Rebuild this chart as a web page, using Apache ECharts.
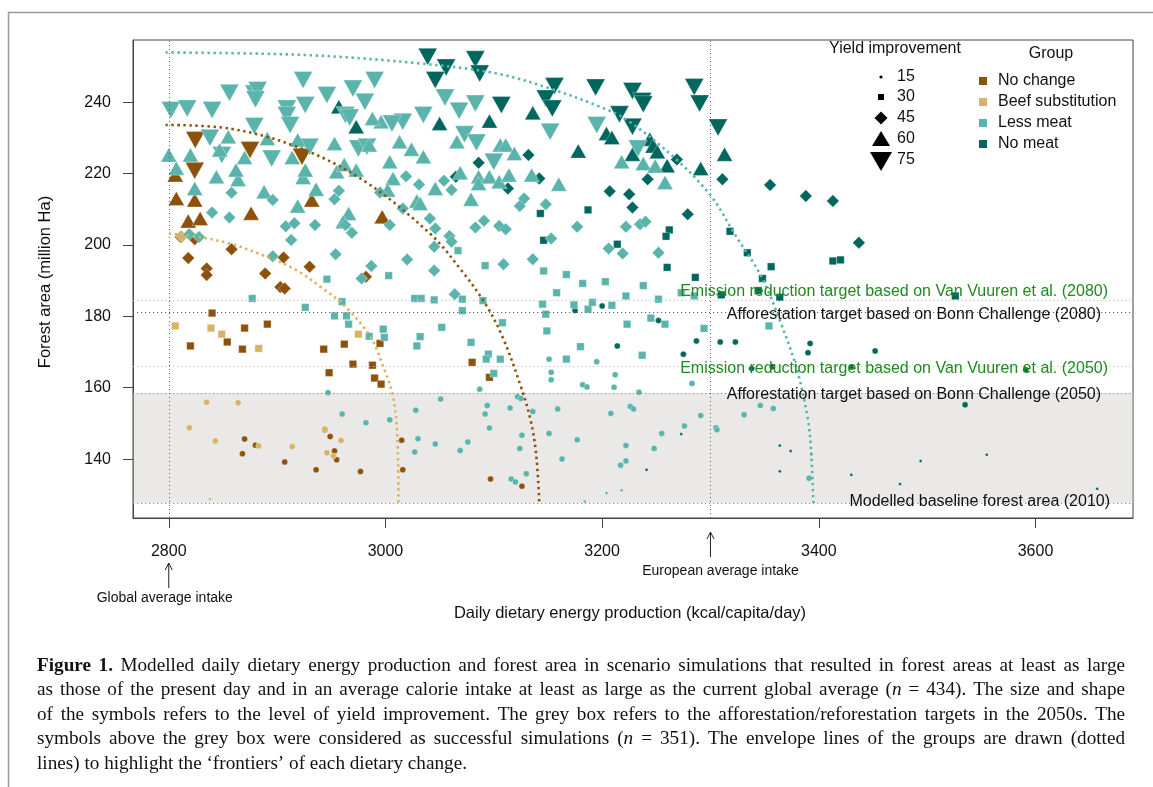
<!DOCTYPE html>
<html><head><meta charset="utf-8">
<script src="https://cdn.jsdelivr.net/npm/echarts@6/dist/echarts.min.js"></script>
<style>html,body{margin:0;padding:0;background:#fff;}#c{width:1153px;height:787px;}</style>
</head><body><div id="c"></div>
<script>
// ---------------- data ----------------
const xTicks = [2800, 3000, 3200, 3400, 3600];
const yTicks = [140, 160, 180, 200, 220, 240];
const yieldLevels = [15, 30, 45, 60, 75];
const groupNames = ['No change', 'Beef substitution', 'Less meat', 'No meat'];

// No change
const noChange75 = [[2824.5,229.4],[2824,220.8],[2875,226.6],[2923,224.7]];
const noChange60 = [[2807,213.0],[2824,212.6],[2818,206.7],[2829,207.4],[2876,208.9],[2932,212.6],[2997,207.9],[2806,219.6]];
const noChange45 = [[2818,196.3],[2835,193.4],[2835,191.6],[2858,198.8],[2889,192.0],[2906,196.5],[2903,188.2],[2907,187.8],[2930,193.9],[2982,191.1],[2811,202.2],[2824,201.6]];
const noChange30 = [[2840,180.9],[2820,171.7],[2854,172.8],[2870,176.7],[2868,170.8],[2891,177.8],[2943,170.8],[2948,164.2],[2962,172.2],[2970,166.6],[2988,166.3],[2990,162.7],[2996,161.0],[2995,172.4],[3080,167.1],[3096,162.9]];
const noChange15 = [[2870,145.6],[2868,141.5],[2880,143.9],[2907,139.2],[2936,137.0],[2944,148.2],[2949,146.3],[2953,142.3],[2955,139.8],[2977,136.5],[3015,145.3],[3016,137.0],[3097,134.4],[3126,132.4]];
const noChange0 = [];

// Beef substitution
const beef75 = [];
const beef60 = [];
const beef45 = [[2812,202.3]];
const beef30 = [[2806,177.3],[2839,176.7],[2849,175.0],[2883,171.0],[2975,175.0]];
const beef15 = [[2835,155.9],[2864,155.8],[2819,148.8],[2843,145.1],[2883,143.7],[2914,143.5],[2944,148.4],[2959,145.2],[2946,141.8],[2952,140.9]];
const beef0 = [[2838,128.8]];

// Less meat
const lessMeat75 = [[2802,237.8],[2817,238.2],[2840,237.8],[2856,242.6],[2879,242.4],[2882,243.4],[2880,240.8],[2909,238.2],[2924,246.2],[2926,239.2],[2946,242.0],[2970,243.8],[2990,246.2],[2981,240.1],[2963,236.4],[2967,235.7],[2909,236.4],[2912,233.6],[2879,233.3],[2838,230.0],[2895,224.2],[2930,227.5],[2975,227.0],[2983,227.5],[2849,225.2],[3035,236.4],[3016,234.5],[3006,234.0],[3055,241.3],[3068,237.6],[3083,239.6],[3073,231.0],[3084,228.7],[3100,223.3],[3152,231.7],[3195,233.6],[3233,227.0]];
const lessMeat60 = [[2800,225.2],[2820,225.2],[2807,221.5],[2824,215.8],[2844,219.1],[2864,218.3],[2862,221.0],[2870,224.5],[2855,230.3],[2847,226.6],[2888,214.9],[2919,210.9],[2936,215.6],[2924,218.9],[2926,221.0],[2914,224.5],[2919,229.4],[2953,228.4],[2955,220.5],[2962,222.5],[2973,221.0],[2966,208.8],[2961,206.5],[2996,234.5],[3004,223.3],[3007,218.6],[3013,228.9],[3024,226.8],[3035,224.7],[3029,212.3],[3002,215.4],[2891,229.8],[2988,235.4],[2985,228.0],[3046,215.8],[3069,220.2],[3066,228.9],[3079,212.8],[3086,219.1],[3086,217.2],[3096,219.1],[3105,217.7],[3106,228.0],[3111,228.0],[3119,225.6],[3114,219.6],[3135,219.6],[3160,217.0],[3218,223.3],[3238,222.8],[3249,222.1],[3258,217.5],[3032,211.6]];
const lessMeat45 = [[2858,214.6],[2896,212.6],[2840,209.1],[2856,207.7],[2908,205.2],[2916,206.1],[2935,205.6],[2913,201.4],[2957,215.2],[2953,212.8],[2963,205.6],[2969,203.4],[2954,197.4],[2987,194.1],[3020,195.9],[3019,219.2],[3031,216.9],[2995,214.7],[3016,210.2],[2896,196.8],[2819,203.0],[2828,202.2],[2978,190.6],[3004,205.6],[3045,199.5],[3054,218.0],[3061,215.4],[3041,207.4],[3046,204.6],[3045,192.8],[3059,202.5],[3061,200.9],[3083,204.9],[3091,206.8],[3105,205.3],[3111,204.4],[3109,194.6],[3124,210.9],[3128,213.0],[3136,196.0],[3148,211.4],[3153,201.8],[3177,205.1],[3206,199.0],[3219,197.6],[3222,205.1],[3235,205.8],[3240,206.5],[3252,197.8],[3064,186.2]];
const lessMeat30 = [[2877,185.0],[2926,182.5],[2946,190.4],[2953,180.1],[2960,184.1],[2964,180.1],[2966,177.8],[2985,174.4],[2998,176.4],[2999,174.1],[3003,191.4],[3027,185.0],[3033,185.0],[3045,184.6],[3029,171.7],[3032,174.3],[3052,176.9],[3067,198.4],[3092,194.2],[3071,184.8],[3090,184.4],[3071,181.6],[3079,172.7],[3108,178.2],[3095,169.4],[3093,168.0],[3106,168.0],[3100,164.0],[3146,192.7],[3167,191.7],[3182,189.2],[3203,189.7],[3238,188.6],[3158,186.6],[3145,183.4],[3148,180.6],[3174,183.2],[3187,182.0],[3191,183.9],[3209,183.1],[3222,185.7],[3252,184.8],[3245,179.5],[3258,177.8],[3223,177.8],[3149,175.9],[3180,171.5],[3167,168.0],[3237,169.1],[3294,176.6],[3273,186.6],[3285,185.7],[3354,177.3]];
const lessMeat15 = [[3087,159.6],[3151,168.0],[3153,164.3],[3153,162.2],[3182,160.8],[3186,160.2],[3195,167.3],[3212,163.6],[3211,160.1],[3283,161.2],[3234,158.7],[2947,158.6],[2960,152.6],[2982,150.2],[3004,151.0],[3028,153.7],[3030,145.7],[3027,142.0],[3046,144.2],[3051,156.8],[3069,142.4],[3076,144.8],[3092,152.6],[3094,155.0],[3096,148.7],[3115,154.3],[3122,157.5],[3125,157.0],[3126,146.7],[3124,143.0],[3130,135.9],[3116,134.4],[3120,133.6],[3136,153.3],[3151,147.2],[3159,154.0],[3163,140.0],[3177,145.4],[3208,152.8],[3222,143.8],[3222,139.5],[3217,138.3],[3226,154.7],[3229,154.0],[3248,143.0],[3255,147.2],[3276,149.3],[3291,152.2],[3305,148.8],[3306,148.2],[3331,152.4],[3346,155.0],[3358,154.2],[3391,134.6]];
const lessMeat0 = [[3204,130.5],[3218,131.3],[3184,128.1]];

// No meat
const noMeat75 = [[3039,252.7],[3056,249.7],[3046,246.2],[3083,252.0],[3087,248.0],[3107,239.2],[3156,244.5],[3148,241.0],[3154,238.2],[3194,244.1],[3228,243.1],[3237,240.3],[3238,239.4],[3216,236.6],[3228,233.1],[3285,244.2],[3290,239.6],[3307,232.9]];
const noMeat60 = [[2957,238.7],[2973,233.1],[3050,234.0],[3096,234.7],[3136,237.0],[3178,226.3],[3204,231.2],[3209,230.1],[3228,225.4],[3244,229.6],[3247,227.7],[3251,226.1],[3260,222.2],[3291,221.4],[3313,225.4]];
const noMeat45 = [[3086,223.0],[3065,219.1],[3113,215.8],[3132,225.2],[3142,218.6],[3207,215.0],[3225,214.2],[3228,210.5],[3242,218.4],[3269,223.9],[3279,208.6],[3311,218.4],[3355,216.8],[3388,213.7],[3413,212.3],[3437,200.6]];
const noMeat30 = [[3143,208.8],[3187,209.8],[3146,201.3],[3214,200.2],[3262,204.2],[3259,202.4],[3260,193.7],[3286,190.9],[3318,203.8],[3310,186.0],[3334,197.8],[3356,193.9],[3348,190.6],[3344,187.2],[3364,185.3],[3413,195.5],[3420,195.8],[3526,185.7]];
const noMeat15 = [[3175,181.6],[3200,182.9],[3252,178.8],[3214,171.7],[3275,169.4],[3287,173.1],[3309,172.8],[3323,172.8],[3392,172.4],[3390,169.8],[3452,170.3],[3338,165.4],[3357,165.9],[3430,165.8],[3591,165.0],[3535,155.2]];
const noMeat0 = [[3273,147.0],[3241,137.0],[3364,143.8],[3374,142.3],[3393,141.4],[3364,136.6],[3430,135.6],[3475,133.0],[3494,139.5],[3555,141.2],[3657,131.7]];

// envelope ("frontier") lines
const envelopeBeef = [[2800,203.2],[2826,202.3],[2856,200.4],[2887,197.1],[2918,192.9],[2942,187.8],[2963,182.7],[2986,174.3],[2998,165.9],[3007,157.5],[3011,146.2],[3012,127.7]];
const envelopeNoChange = [[2797,233.6],[2856,232.6],[2918,227.5],[2979,218.2],[3041,203.2],[3070,192.9],[3092,183.6],[3108,174.3],[3125,160.3],[3134,150.9],[3139,141.6],[3142,128.0]];
const envelopeMeat = [[2797,253.9],[2926,253.2],[3033,250.8],[3103,248.0],[3152,243.8],[3198,238.7],[3223,235.0],[3269,223.8],[3301,213.5],[3322,203.2],[3347,191.1],[3364,178.9],[3380,164.9],[3390,150.9],[3393,141.6],[3395,127.7]];

// reference levels (million Ha) and intake markers (kcal)
const baseline2010 = 127.7;
const bonn2050 = 158.5;
const vuuren2050 = 166.1;
const bonn2080 = 181.2;
const vuuren2080 = 184.6;
const globalIntake = 2800;
const europeanIntake = 3300;

const refLabels = [
  {text:'Emission reduction target based on Van Vuuren et al. (2080)', y:vuuren2080, color:'#1f8a1f', dy:-8, right:1108},
  {text:'Afforestation target based on Bonn Challenge (2080)', y:bonn2080, color:'#111', dy:3, right:1101},
  {text:'Emission reduction target based on Van Vuuren et al. (2050)', y:vuuren2050, color:'#1f8a1f', dy:3, right:1108},
  {text:'Afforestation target based on Bonn Challenge (2050)', y:bonn2050, color:'#111', dy:2, right:1101},
  {text:'Modelled baseline forest area (2010)', y:baseline2010, color:'#111', dy:-1, right:1110}
];

const captionLines = [
  '**Figure** **1.** Modelled daily dietary energy production and forest area in scenario simulations that resulted in forest areas at least as large',
  'as those of the present day and in an average calorie intake at least as large as the current global average (_n_ = 434). The size and shape',
  'of the symbols refers to the level of yield improvement. The grey box refers to the afforestation/reforestation targets in the 2050s. The',
  'symbols above the grey box were considered as successful simulations (_n_ = 351). The envelope lines of the groups are drawn (dotted',
  'lines) to highlight the \u2018frontiers\u2019 of each dietary change.'
];

// ---------------- styling ----------------
const colors = {'No change':'#8C510A','Beef substitution':'#D8B365','Less meat':'#5AB4AC','No meat':'#01665E'};
const symbolStyle = {
  0:{symbol:'circle', size:3, rot:0},
  15:{symbol:'circle', size:6, rot:0},
  30:{symbol:'rect', size:7.5, rot:0},
  45:{symbol:'diamond', size:12.5, rot:0},
  60:{symbol:'triangle', size:[16,14], rot:0},
  75:{symbol:'triangle', size:[19,17], rot:180}
};
const drawOrder = [
  ['No meat', {0:noMeat0,15:noMeat15,30:noMeat30,45:noMeat45,60:noMeat60,75:noMeat75}],
  ['No change', {0:noChange0,15:noChange15,30:noChange30,45:noChange45,60:noChange60,75:noChange75}],
  ['Beef substitution', {0:beef0,15:beef15,30:beef30,45:beef45,60:beef60,75:beef75}],
  ['Less meat', {0:lessMeat0,15:lessMeat15,30:lessMeat30,45:lessMeat45,60:lessMeat60,75:lessMeat75}]
];

const FONT = '"Liberation Sans", Arial, Helvetica, sans-serif';
const series = [];
drawOrder.forEach(([g, sets]) => {
  [75, 60, 45, 30, 15, 0].forEach(lv => {
    const d = sets[lv];
    if (!d || !d.length) return;
    const st = symbolStyle[lv];
    series.push({
      type:'scatter', name:g + ' ' + lv, data:d, symbol:st.symbol, symbolSize:st.size, symbolRotate:st.rot,
      itemStyle:{color:colors[g], opacity:1, borderColor:'rgba(255,255,255,0.5)', borderWidth:0.6},
      z:2, silent:true, emphasis:{disabled:true}
    });
  });
});

// grey box (semi-transparent, drawn over the points) + reference lines
series.push({
  type:'line', data:[], z:5, silent:true,
  markArea:{silent:true, itemStyle:{color:'rgba(203,199,195,0.4)'}, data:[[{yAxis:baseline2010},{yAxis:bonn2050}]]},
  markLine:{silent:true, symbol:['none','none'], label:{show:false}, animation:false,
    data:[
      {yAxis:vuuren2080, lineStyle:{color:'#c4c4c4', width:1.2, type:[1.2,2.8]}},
      {yAxis:bonn2080, lineStyle:{color:'#666', width:1.2, type:[1.2,2.8]}},
      {yAxis:vuuren2050, lineStyle:{color:'#c4c4c4', width:1.2, type:[1.2,2.8]}},
      {yAxis:bonn2050, lineStyle:{color:'#888', width:1.2, type:[1.2,2.8]}},
      {yAxis:baseline2010, lineStyle:{color:'#888', width:1.2, type:[1.2,2.8]}},
      {xAxis:globalIntake, lineStyle:{color:'#555', width:1, type:[1,3]}},
      {xAxis:europeanIntake, lineStyle:{color:'#555', width:1, type:[1,3]}}
    ]}
});

[[envelopeBeef,'#DDB062'],[envelopeNoChange,'#8C510A'],[envelopeMeat,'#5AB4AC']].forEach(([d,c]) => {
  series.push({type:'line', data:d, smooth:0.35, symbol:'none', showSymbol:false, silent:true, z:6,
    lineStyle:{color:c, width:2.6, type:[2.4,3.6]}});
});

const chart = echarts.init(document.getElementById('c'), null, {renderer:'canvas'});
chart.setOption({
  animation:false,
  textStyle:{fontFamily:FONT},
  grid:{left:133, top:40, width:1000, height:478, show:true, borderColor:'#444', borderWidth:1, backgroundColor:'transparent'},
  xAxis:{type:'value', min:2767, max:3690,
    axisLine:{show:true, onZero:false, lineStyle:{color:'#444'}},
    axisTick:{show:true, length:10, customValues:xTicks, lineStyle:{color:'#444'}},
    axisLabel:{customValues:xTicks, margin:26, fontSize:16, color:'#111', fontFamily:FONT, formatter:v => String(v)},
    splitLine:{show:false}},
  yAxis:{type:'value', min:123.5, max:257.4,
    axisLine:{show:true, onZero:false, lineStyle:{color:'#444'}},
    axisTick:{show:true, length:10, customValues:yTicks, lineStyle:{color:'#444'}},
    axisLabel:{customValues:yTicks, margin:22, fontSize:16, color:'#111', fontFamily:FONT, formatter:v => String(v)},
    splitLine:{show:false}},
  series:series
});

// ---------------- annotations, legends, caption ----------------
const G = [];
const px = (x, y) => chart.convertToPixel({gridIndex:0}, [x, y]);
function txt(x, y, text, o) {
  o = o || {};
  G.push({type:'text', x:x, y:y, rotation:o.rot || 0, z:100, silent:true,
    style:{text:text, fill:o.color || '#111', fontSize:o.size || 16, fontFamily:o.family || FONT,
      fontWeight:o.weight || 'normal', fontStyle:o.style || 'normal',
      align:o.align || 'left', verticalAlign:o.va || 'middle'}});
}
// frame around figure
G.push({type:'polyline', silent:true, z:100, shape:{points:[[8.5,800],[8.5,12.5],[1160,12.5]]}, style:{stroke:'#9a9a9a', lineWidth:1.5, fill:null}});

// reference line labels
refLabels.forEach(r => { const p = px(3000, r.y); txt(r.right, p[1] + r.dy, r.text, {align:'right', color:r.color, size:16}); });

// axis titles
txt(630, 613, 'Daily dietary energy production (kcal/capita/day)', {align:'center', size:16.5});
txt(45, 282, 'Forest area (million Ha)', {align:'center', size:16.5, rot:Math.PI/2});

// intake arrows
function arrow(x, y1, y2) {
  G.push({type:'line', silent:true, z:100, shape:{x1:x, y1:y1, x2:x, y2:y2}, style:{stroke:'#222', lineWidth:1}});
  G.push({type:'polyline', silent:true, z:100, shape:{points:[[x-3.5,y2+7],[x,y2],[x+3.5,y2+7]]}, style:{stroke:'#222', lineWidth:1, fill:null}});
}
const gx = px(globalIntake, 140)[0], ex = px(europeanIntake, 140)[0];
arrow(gx, 588, 563);
txt(gx - 4, 598, 'Global average intake', {align:'center', size:14});
arrow(ex, 557, 532);
txt(ex + 10, 571, 'European average intake', {align:'center', size:14});

// yield legend
txt(895, 49, 'Yield improvement', {align:'center', size:16});
const ly = [77, 97, 118, 139, 160];
const lx = 881;
G.push({type:'circle', silent:true, z:100, shape:{cx:lx, cy:ly[0], r:1.6}, style:{fill:'#000'}});
G.push({type:'rect', silent:true, z:100, shape:{x:lx-3, y:ly[1]-3, width:6, height:6}, style:{fill:'#000'}});
G.push({type:'polygon', silent:true, z:100, shape:{points:[[lx,ly[2]-6.5],[lx+6.5,ly[2]],[lx,ly[2]+6.5],[lx-6.5,ly[2]]]}, style:{fill:'#000'}});
G.push({type:'polygon', silent:true, z:100, shape:{points:[[lx,ly[3]-8],[lx+9,ly[3]+7],[lx-9,ly[3]+7]]}, style:{fill:'#000'}});
G.push({type:'polygon', silent:true, z:100, shape:{points:[[lx-11,ly[4]-8],[lx+11,ly[4]-8],[lx,ly[4]+11]]}, style:{fill:'#000'}});
yieldLevels.forEach((v, i) => txt(897, ly[i], String(v), {size:16}));

// group legend
txt(1051, 54, 'Group', {align:'center', size:16});
const gy = [81, 102, 123, 144];
groupNames.forEach((g, i) => {
  G.push({type:'rect', silent:true, z:100, shape:{x:979, y:gy[i]-4, width:8, height:8}, style:{fill:colors[g]}});
  txt(998, gy[i], g, {size:16});
});

// caption, justified
const capSize = 19.2, capL = 37, capR = 1125, capY0 = 666, capLH = 24.4;
const SERIF = '"Liberation Serif", "Times New Roman", serif';
const ctx = document.createElement('canvas').getContext('2d');
function segs(word) {
  return word.split(/(\*\*[^*]+\*\*|_[^_]+_)/).filter(s => s.length).map(s => {
    if (s.startsWith('**')) return {t:s.slice(2,-2), b:true};
    if (s.startsWith('_') && s.length > 2) return {t:s.slice(1,-1), i:true};
    return {t:s};
  });
}
function segW(s) { ctx.font = (s.i ? 'italic ' : '') + (s.b ? 'bold ' : '') + capSize + 'px ' + SERIF; return ctx.measureText(s.t).width; }
ctx.font = capSize + 'px ' + SERIF;
const spaceW = ctx.measureText(' ').width;
captionLines.forEach((line, li) => {
  const words = line.split(' ').map(w => { const s = segs(w); return {s:s, w:s.reduce((a, q) => a + segW(q), 0)}; });
  const total = words.reduce((a, w) => a + w.w, 0);
  const last = li === captionLines.length - 1;
  const gap = last ? spaceW : Math.max(spaceW * 0.5, (capR - capL - total) / (words.length - 1));
  let x = capL;
  const y = capY0 + li * capLH;
  words.forEach(w => {
    let xx = x;
    w.s.forEach(s => {
      txt(xx, y, s.t, {size:capSize, family:SERIF, weight:s.b ? 'bold' : 'normal', style:s.i ? 'italic' : 'normal', color:'#111'});
      xx += segW(s);
    });
    x += w.w + gap;
  });
});

chart.setOption({graphic:G});
</script></body></html>
